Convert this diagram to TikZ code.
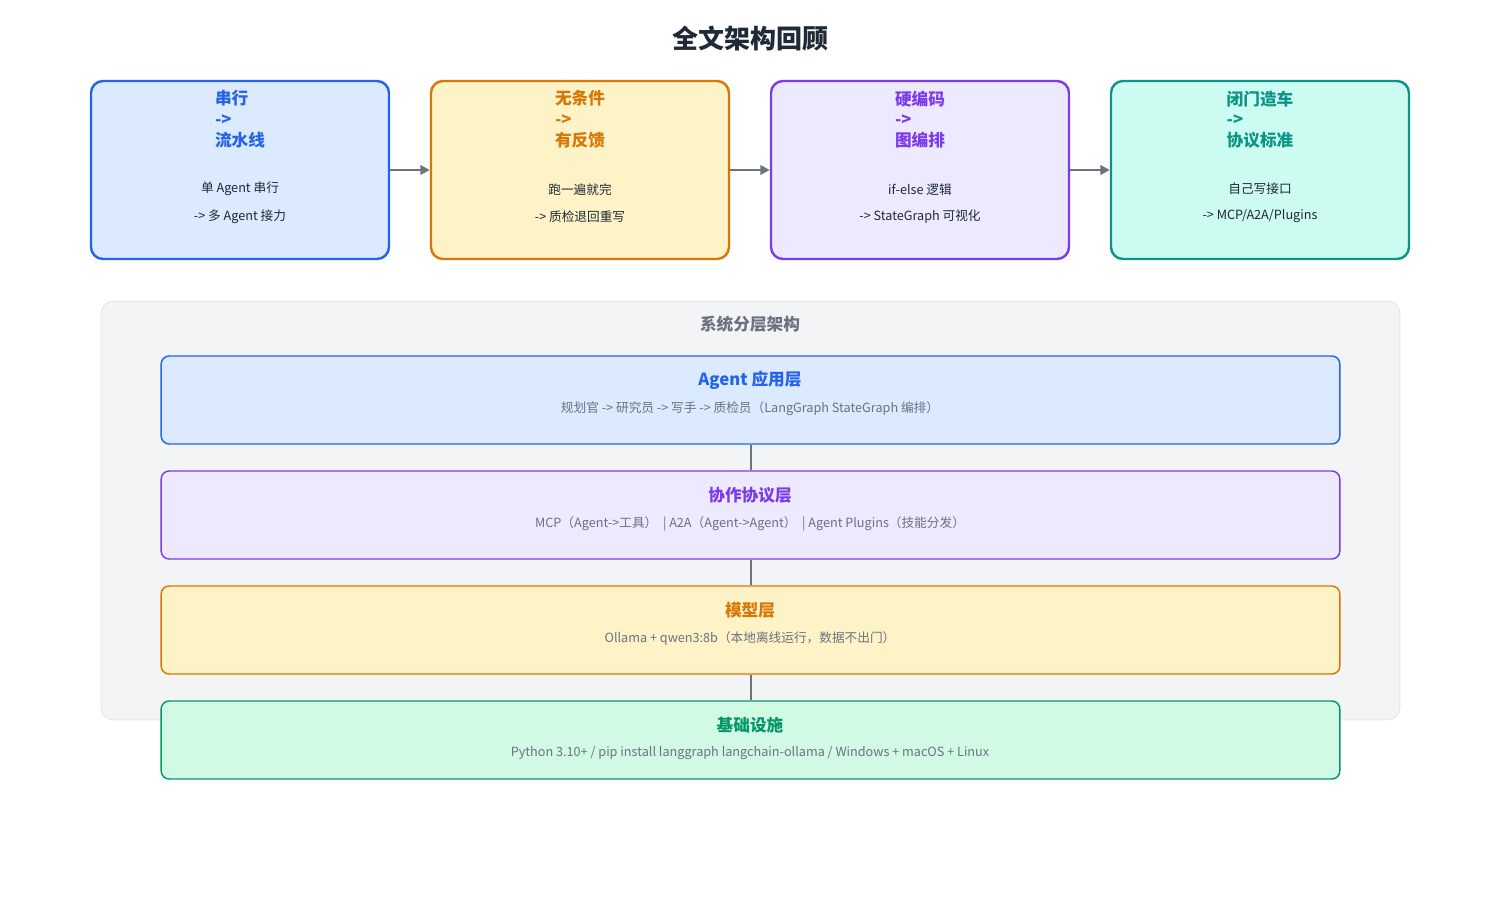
\documentclass[tikz,border=0pt]{standalone}
\usepackage{fontspec}
\setmainfont{Noto Sans CJK SC}
\usetikzlibrary{arrows.meta}
\definecolor{cb}{HTML}{2563EB}\definecolor{fb}{HTML}{DBEAFE}
\definecolor{co}{HTML}{D97706}\definecolor{fo}{HTML}{FEF3C7}
\definecolor{cp}{HTML}{7C3AED}\definecolor{fp}{HTML}{EDE9FE}
\definecolor{ct}{HTML}{0D9488}\definecolor{ft}{HTML}{CCFBF1}
\definecolor{cg}{HTML}{059669}\definecolor{fg}{HTML}{D1FAE5}
\definecolor{gl}{HTML}{6B7280}\definecolor{tx}{HTML}{1F2937}
\definecolor{bgf}{HTML}{F3F4F6}\definecolor{bgd}{HTML}{E5E7EB}
\begin{document}
\begin{tikzpicture}[x=0.75pt,y=-0.75pt,
 card/.style={draw=#1,line width=1.8pt,rounded corners=9pt},
 ctitle/.style={font=\fontsize{12.5}{15.5}\selectfont\bfseries,text=#1,align=left,anchor=north},
 cbody/.style={font=\fontsize{9.5}{11}\selectfont,text=tx},
 layer/.style={draw=#1,line width=1.1pt,rounded corners=6pt},
 ltitle/.style={font=\fontsize{12.5}{15}\selectfont\bfseries,text=#1},
 lsub/.style={font=\fontsize{9.5}{11}\selectfont,text=gl},
 arr/.style={draw=gl,line width=1.8pt,-{Triangle[length=7pt,width=7pt]}},
 conn/.style={draw=gl,line width=1.5pt}]
\useasboundingbox (0,0) rectangle (1500,900);
\node[font=\fontsize{19.5}{22}\selectfont\bfseries,text=tx] (title) at (750,39) {全文架构回顾};
% top cards
\node[card=cb,fill=fb,minimum width=223.5pt,minimum height=133.5pt] (c1) at (240,170) {};
\node[card=co,fill=fo,minimum width=223.5pt,minimum height=133.5pt] (c2) at (580,170) {};
\node[card=cp,fill=fp,minimum width=223.5pt,minimum height=133.5pt] (c3) at (920,170) {};
\node[card=ct,fill=ft,minimum width=223.5pt,minimum height=133.5pt] (c4) at (1260,170) {};
\node[ctitle=cb] (t1) at (240,86) {串行\\->\\流水线};
\node[ctitle=co] (t2) at (580,86) {无条件\\->\\有反馈};
\node[ctitle=cp] (t3) at (920,86) {硬编码\\->\\图编排};
\node[ctitle=ct] (t4) at (1260,86) {闭门造车\\->\\协议标准};
\node[cbody] (b1a) at (240,189) {单 Agent 串行};
\node[cbody] (b1b) at (240,217) {-> 多 Agent 接力};
\node[cbody] (b2a) at (580,190) {跑一遍就完};
\node[cbody] (b2b) at (580,217) {-> 质检退回重写};
\node[cbody] (b3a) at (920,190) {if-else 逻辑};
\node[cbody] (b3b) at (920,217) {-> StateGraph 可视化};
\node[cbody] (b4a) at (1260,189) {自己写接口};
\node[cbody] (b4b) at (1260,216) {-> MCP/A2A/Plugins};
\draw[arr] (c1.east) -- (c2.west);
\draw[arr] (c2.east) -- (c3.west);
\draw[arr] (c3.east) -- (c4.west);
% container
\node[draw=bgd,fill=bgf,line width=0.8pt,rounded corners=9pt,minimum width=974pt,minimum height=314pt] (bg) at (750.5,510.5) {};
\node[font=\fontsize{12.5}{15}\selectfont\bfseries,text=gl] (bgt) at (750,324) {系统分层架构};
% layers
\node[layer=cb,fill=fb,minimum width=884pt,minimum height=66pt] (L1) at (750.5,400) {};
\node[layer=cp,fill=fp,minimum width=884pt,minimum height=66pt] (L2) at (750.5,515) {};
\node[layer=co,fill=fo,minimum width=884pt,minimum height=66pt] (L3) at (750.5,630) {};
\node[layer=cg,fill=fg,minimum width=884pt,minimum height=58.5pt] (L4) at (750.5,740) {};
\draw[conn] (L1.south) -- (L2.north);
\draw[conn] (L2.south) -- (L3.north);
\draw[conn] (L3.south) -- (L4.north);
\node[ltitle=cb] at (750,380) {Agent 应用层};
\node[lsub] at (750,409) {规划官 -> 研究员 -> 写手 -> 质检员（LangGraph StateGraph 编排）};
\node[ltitle=cp] at (750,495) {协作协议层};
\node[lsub] at (750,524) {MCP（Agent->工具）\ \ |\ A2A（Agent->Agent）\ \ |\ Agent Plugins（技能分发）};
\node[ltitle=co] at (750,610) {模型层};
\node[lsub] at (750,639) {Ollama + qwen3:8b（本地离线运行，数据不出门）};
\node[ltitle=cg] at (750,725) {基础设施};
\node[lsub] at (750,753) {Python 3.10+ / pip install langgraph langchain-ollama / Windows + macOS + Linux};
\end{tikzpicture}
\end{document}
